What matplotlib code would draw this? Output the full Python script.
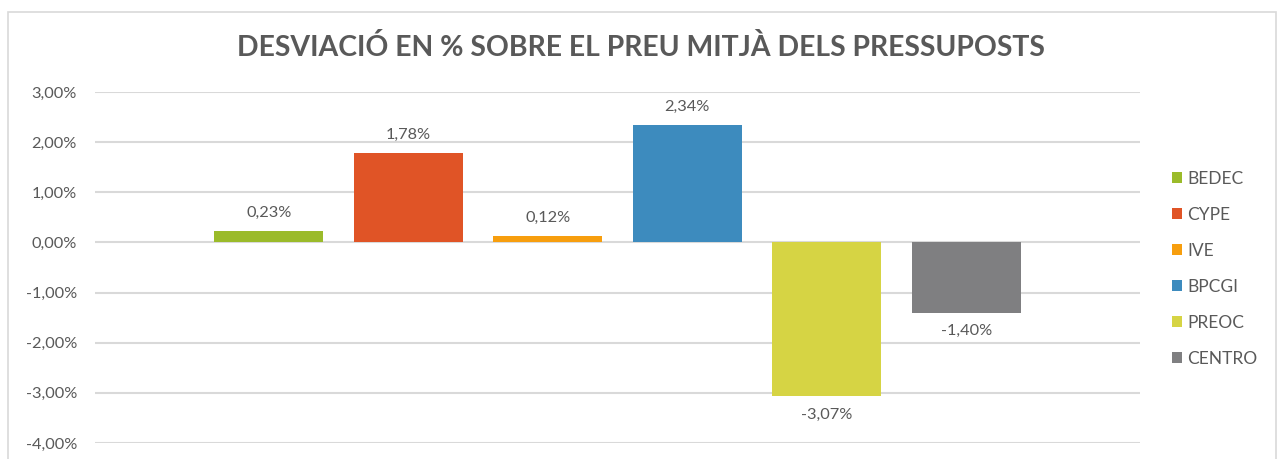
import matplotlib
matplotlib.use("Agg")
import matplotlib.pyplot as plt
from matplotlib.patches import Rectangle, Patch

categories = ["BEDEC", "CYPE", "IVE", "BPCGI", "PREOC", "CENTRO"]
values = [0.23, 1.78, 0.12, 2.34, -3.07, -1.40]
colors = ["#9BBB2A", "#E05426", "#F79E0E", "#3D8BBE", "#D6D444", "#7F7F81"]
yticks = [3, 2, 1, 0, -1, -2, -3, -4]
title = "DESVIACIÓ EN % SOBRE EL PREU MITJÀ DELS PRESSUPOSTS"

plt.rcParams['font.family'] = ['Lato', 'DejaVu Sans']
W, H = 1279, 459
fig = plt.figure(figsize=(W/100, H/100), dpi=100)
fig.patch.set_facecolor("white")

# chart border
fig.add_artist(Rectangle((8/W, -0.05), (1276-8)/W, 1.05 - 12/H,
                         transform=fig.transFigure, fill=False,
                         edgecolor="#D9D9D9", linewidth=1.2))

ax = fig.add_axes([95/W, 1-443/H, (1140-95)/W, (443-92)/H])
x = list(range(len(categories)))
bars = ax.bar(x, values, width=0.78, color=colors, label=categories, zorder=3)
ax.set_xlim(-1.245, 6.245)
ax.set_ylim(-4, 3)
ax.set_yticks(yticks)
ax.set_yticklabels([("%.2f%%" % v).replace(".", ",") for v in yticks],
                   color="#595959", fontsize=11.8)
ax.tick_params(axis='y', length=0, pad=13)
ax.set_xticks([])
for s in ax.spines.values():
    s.set_visible(False)
ax.grid(axis='y', color="#D9D9D9", linewidth=1.5, zorder=0)

for xi, v in zip(x, values):
    lbl = ("%.2f%%" % v).replace(".", ",")
    ax.annotate(lbl, (xi, v), xytext=(0, 8 if v >= 0 else -8),
                textcoords="offset points", ha="center",
                va="bottom" if v >= 0 else "top",
                color="#595959", fontsize=11.8)

fig.text(641/W, 1-47/H, title, ha="center", va="center",
         fontsize=20.4, fontweight="bold", color="#595959")

handles = [Patch(facecolor=c, edgecolor="none") for c in colors]
fig.legend(handles, categories, loc="center left",
           bbox_to_anchor=(1165/W, 1-269/H), frameon=False,
           fontsize=12.5, labelcolor="#595959", handlelength=0.6,
           handleheight=0.6, handletextpad=0.3, labelspacing=1.15,
           borderaxespad=0)

fig.savefig("out.png", dpi=100)
